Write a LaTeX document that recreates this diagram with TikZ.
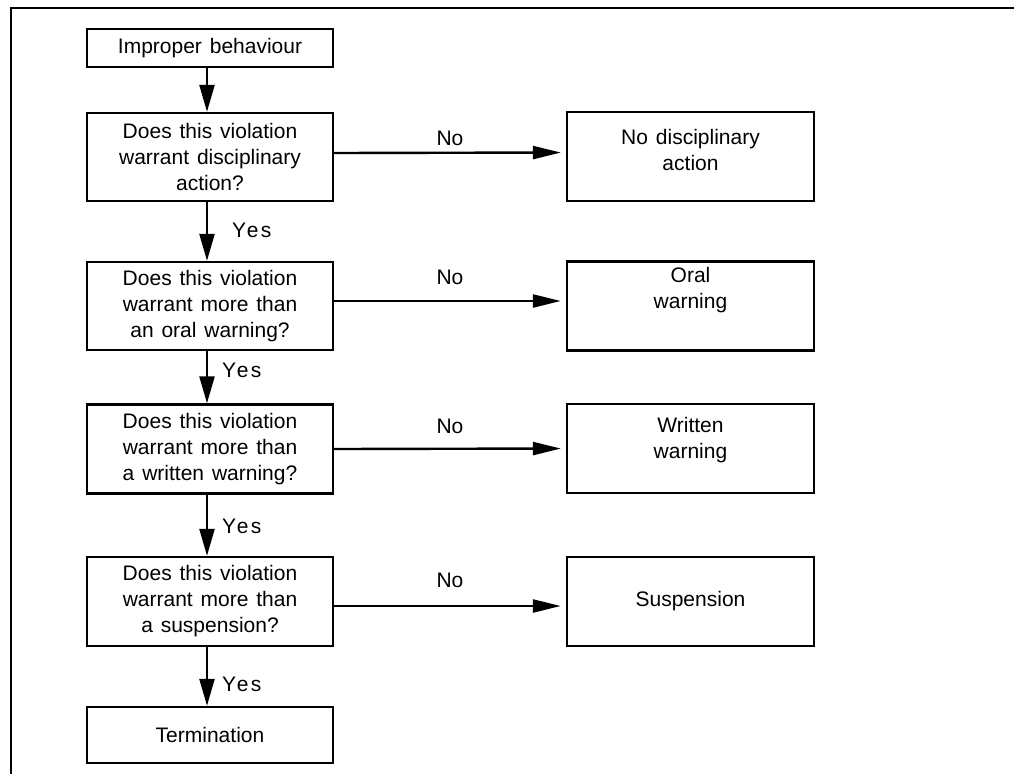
\documentclass[tikz,border=0pt]{standalone}
\usepackage{fontspec}
\setmainfont{Liberation Sans}[WordSpace=1.35]
\usetikzlibrary{arrows.meta}
\begin{document}
\begin{tikzpicture}[x=1pt,y=-1pt,
  box/.style={draw, line width=2.4pt, minimum width=246pt, inner sep=0pt,
              align=center, font=\fontsize{21}{26}\selectfont},
  rbox/.style={box, minimum width=247pt, minimum height=89pt},
  txt/.style={align=center, inner sep=0pt, font=\fontsize{21}{26}\selectfont},
  flow/.style={line width=2.4pt, -{Triangle[length=27pt,width=15pt]}},
  side/.style={flow, -{Triangle[length=28pt,width=13pt]}, shorten >=5pt},
  yeslbl/.style={anchor=west, inner sep=0pt,
                 font=\fontsize{21}{26}\selectfont\addfontfeature{LetterSpace=12}},
  nolbl/.style={inner sep=0pt, font=\fontsize{21}{26}\selectfont}]
\useasboundingbox (0,0) rectangle (1014,774);

% frame
\draw[line width=2.8pt] (1014,8) -- (11,8) -- (11,774);

% decision column
\node[box, minimum height=38pt] (b0) at (210,48) {Improper behaviour};
\node[box, minimum height=88pt] (b1) at (210,157)
  {Does this violation\\warrant disciplinary\\action?};
\node[box, minimum height=88pt] (b2) at (210,306)
  {Does this violation\\warrant more than\\an oral warning?};
\node[box, minimum height=89pt] (b3) at (210,449)
  {Does this violation\\warrant more than\\a written warning?};
\node[box, minimum height=89pt] (b4) at (210,601.5)
  {Does this violation\\warrant more than\\a suspension?};
\node[box, minimum height=56pt] (b5) at (210,735) {Termination};

% outcome column
\node[rbox] (r1) at (690.5,156.5) {};
\node[txt] (r1t) at (690.5,150) {No disciplinary\\action};
\node[rbox] (r2) at (690.5,306) {};
\node[txt] (r2t) at (690.5,290.5) {Oral\\warning};
\node[rbox] (r3) at (690.5,448.5) {};
\node[txt] (r3t) at (690.5,440) {Written\\warning};
\node[rbox] (r4) at (690.5,601.5) {Suspension};

% "yes" path
\draw[flow] ([xshift=-3pt]b0.south) -- ([xshift=-3pt]b1.north);
\draw[flow] ([xshift=-3pt]b1.south) -- ([xshift=-3pt]b2.north);
\draw[flow] ([xshift=-3pt]b2.south) -- ([xshift=-3pt]b3.north);
\draw[flow] ([xshift=-3pt]b3.south) -- ([xshift=-3pt]b4.north);
\draw[flow] ([xshift=-3pt]b4.south) -- ([xshift=-3pt]b5.north);

\node[yeslbl] (y1) at (232,230) {Yes};
\node[yeslbl] (y2) at (222,370) {Yes};
\node[yeslbl] (y3) at (222,526) {Yes};
\node[yeslbl] (y4) at (222,684) {Yes};

% "no" branches
\draw[side] ([yshift=4pt]b1.east) -- ([yshift=4pt]r1.west);
\draw[side] ([yshift=5pt]b2.east) -- ([yshift=5pt]r2.west);
\draw[side] (b3.east) -- (r3.west);
\draw[side] ([yshift=-4.5pt]b4.east) -- ([yshift=-4.5pt]r4.west);

\node[nolbl] (n1) at (450,138) {No};
\node[nolbl] (n2) at (450,277) {No};
\node[nolbl] (n3) at (450,426) {No};
\node[nolbl] (n4) at (450,580) {No};
\end{tikzpicture}
\end{document}
